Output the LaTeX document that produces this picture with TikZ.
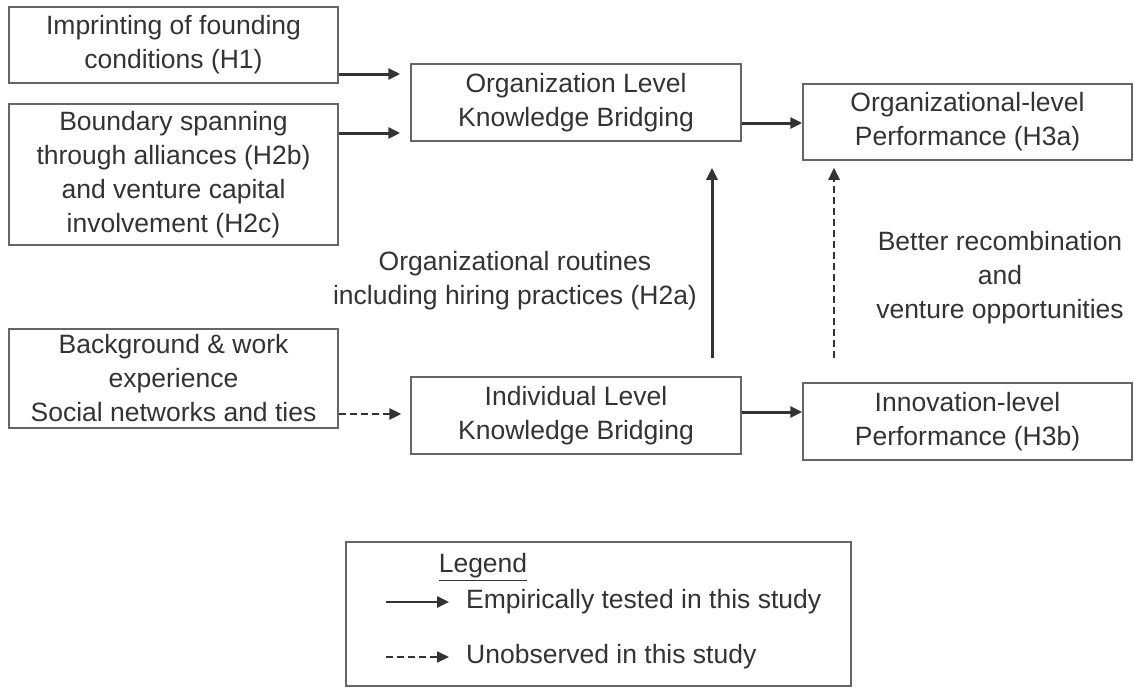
\documentclass[tikz,border=0pt]{standalone}
\usepackage{fontspec}
\setmainfont{Liberation Sans}
\usetikzlibrary{arrows.meta}
\definecolor{txt}{HTML}{333333}
\definecolor{boxc}{HTML}{666666}
\definecolor{arr}{HTML}{333333}
\begin{document}
\begin{tikzpicture}[x=1pt,y=-1pt,
  every node/.style={text=txt,font=\fontsize{26.5}{34}\selectfont,inner sep=0pt},
  bx/.style={draw=boxc,line width=1.5pt,align=center},
  solidarr/.style={draw=arr,line width=3pt,-{Triangle[length=12pt,width=11pt]}},
  dasharr/.style={draw=arr,line width=2.5pt,dash pattern=on 7pt off 4pt,-{Triangle[length=12pt,width=11pt]}}]
\useasboundingbox (0,0) rectangle (1134,688);
\node[bx,minimum width=329pt,minimum height=76pt] (A) at (173.5,45) {Imprinting of founding\\conditions (H1)};
\node[bx,minimum width=329pt,minimum height=141pt] (B) at (173.5,174.5) {Boundary spanning\\through alliances (H2b)\\and venture capital\\involvement (H2c)};
\node[bx,minimum width=330pt,minimum height=77pt] (C) at (576,102.5) {Organization Level\\Knowledge Bridging};
\node[bx,minimum width=329pt,minimum height=76pt] (D) at (967.5,122) {Organizational-level\\Performance (H3a)};
\node[bx,minimum width=329pt,minimum height=99pt] (E) at (173.5,378.5) {Background \& work\\experience\\Social networks and ties};
\node[bx,minimum width=330pt,minimum height=77pt] (F) at (576,415.5) {Individual Level\\Knowledge Bridging};
\node[bx,minimum width=329pt,minimum height=77pt] (G) at (967.5,421.5) {Innovation-level\\Performance (H3b)};
\node[align=center] (L1) at (515,281) {Organizational routines\\including hiring practices (H2a)};
\node[align=center] (L2) at (1000,278) {Better recombination\\and\\venture opportunities};
% connectors
\draw[solidarr,shorten >=10pt] (A.east |- 0,74) -- (C.west |- 0,74);
\draw[solidarr,shorten >=10pt] (B.east |- 0,133) -- (C.west |- 0,133);
\draw[solidarr] (C.east |- 0,123) -- (D.west |- 0,123);
\draw[dasharr,shorten >=9pt] (E.east |- 0,414) -- (F.west |- 0,414);
\draw[solidarr] (F.east |- 0,412) -- (G.west |- 0,412);
\coordinate (vs) at (712,358);
\draw[solidarr,shorten >=26pt] (vs) -- (C.south -| vs);
\coordinate (vd) at (834,358);
\draw[dasharr,shorten >=7pt] (vd) -- (D.south -| vd);
% legend
\node[draw=boxc,line width=1.5pt,minimum width=505pt,minimum height=144pt] (leg) at (598.5,614) {};
\node (lt) at (483,567) {\underline{Legend}};
\coordinate (s1) at (386,602);
\coordinate (s2) at (449,602);
\draw[solidarr,line width=2.5pt] (s1) -- (s2);
\node[anchor=west] (t1) at (466,602) {Empirically tested in this study};
\coordinate (d1) at (386,657);
\coordinate (d2) at (449,657);
\draw[dasharr,line width=2pt] (d1) -- (d2);
\node[anchor=west] (t2) at (466,657) {Unobserved in this study};
\end{tikzpicture}
\end{document}
